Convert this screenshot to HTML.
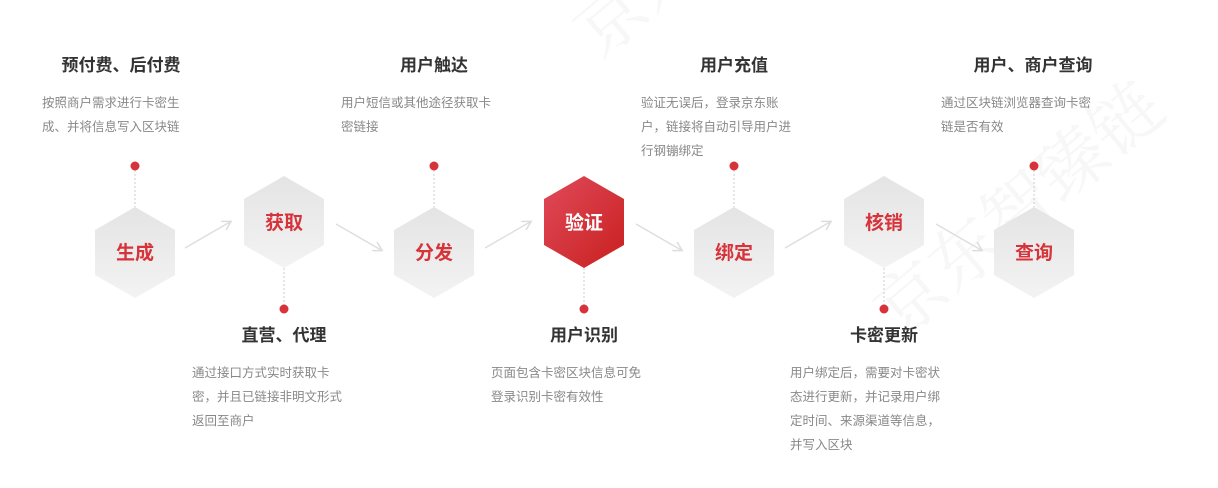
<!DOCTYPE html>
<html><head><meta charset="utf-8">
<style>
html,body{margin:0;padding:0;background:#fff;}
svg{display:block;}
.t{font-family:"Liberation Sans","Noto Sans CJK SC",sans-serif;font-size:17px;font-weight:bold;fill:#333;text-anchor:middle;}
.d{font-family:"Liberation Sans","Noto Sans CJK SC",sans-serif;font-size:12.5px;fill:#888;}
.h{font-family:"Liberation Sans","Noto Sans CJK SC",sans-serif;font-size:19px;font-weight:bold;fill:#d6333a;text-anchor:middle;}
.w{font-family:"Noto Serif CJK SC",serif;font-size:70px;fill:#f7f7f7;}
</style></head><body>
<svg width="1218" height="488" viewBox="0 0 1218 488">
<defs>
<linearGradient id="g" x1="0" y1="0" x2="0" y2="1"><stop offset="0" stop-color="#e4e4e4"/><stop offset="1" stop-color="#f3f3f3"/></linearGradient>
<linearGradient id="r" x1="0" y1="0" x2="1" y2="1"><stop offset="0" stop-color="#e04a5a"/><stop offset="1" stop-color="#c8201f"/></linearGradient>
<marker id="a" markerWidth="8" markerHeight="8" refX="6" refY="4" orient="auto"><path d="M0,0 L7,4 L0,8" fill="none" stroke="#ddd" stroke-width="1.2"/></marker>
</defs>
<text class="w" x="600" y="60" transform="rotate(-40 600 60)">京东</text>
<text class="w" x="900" y="340" transform="rotate(-40 900 340)">京东智臻链</text>
<g stroke="#ccc" stroke-width="1" stroke-dasharray="2,2">
<line x1="135" y1="166" x2="135" y2="207"/>
<line x1="434" y1="166" x2="434" y2="207"/>
<line x1="734" y1="166" x2="734" y2="207"/>
<line x1="1034" y1="166" x2="1034" y2="207"/>
<line x1="284" y1="268" x2="284" y2="309"/>
<line x1="584" y1="268" x2="584" y2="309"/>
<line x1="884" y1="268" x2="884" y2="309"/>
</g>
<g fill="#d6333a">
<circle cx="135" cy="166" r="4.5"/><circle cx="434" cy="166" r="4.5"/><circle cx="734" cy="166" r="4.5"/><circle cx="1034" cy="166" r="4.5"/>
<circle cx="284" cy="309" r="4.5"/><circle cx="584" cy="309" r="4.5"/><circle cx="884" cy="309" r="4.5"/>
</g>
<g stroke="#ddd" stroke-width="1.3" fill="none" marker-end="url(#a)">
<line x1="185" y1="248" x2="230" y2="222"/>
<line x1="336" y1="224" x2="381" y2="250"/>
<line x1="485" y1="248" x2="530" y2="222"/>
<line x1="636" y1="224" x2="681" y2="250"/>
<line x1="785" y1="248" x2="830" y2="222"/>
<line x1="936" y1="224" x2="981" y2="250"/>
</g>
<g fill="url(#g)">
<polygon points="135,207 175,230 175,275 135,298 95,275 95,230"/>
<polygon points="284,176 324,199 324,245 284,268 244,245 244,199"/>
<polygon points="434,207 474,230 474,275 434,298 394,275 394,230"/>
<polygon points="734,207 774,230 774,275 734,298 694,275 694,230"/>
<polygon points="884,176 924,199 924,245 884,268 844,245 844,199"/>
<polygon points="1034,207 1074,230 1074,275 1034,298 994,275 994,230"/>
</g>
<polygon points="584,176 624,199 624,245 584,268 544,245 544,199" fill="url(#r)"/>
<text class="h" x="135" y="259">生成</text>
<text class="h" x="284" y="229">获取</text>
<text class="h" x="434" y="259">分发</text>
<text class="h" x="584" y="229" style="fill:#fff">验证</text>
<text class="h" x="734" y="259">绑定</text>
<text class="h" x="884" y="229">核销</text>
<text class="h" x="1034" y="259">查询</text>
<text class="t" x="121" y="71">预付费、后付费</text>
<text class="d" x="42" y="107">按照商户需求进行卡密生</text>
<text class="d" x="42" y="131">成、并将信息写入区块链</text>
<text class="t" x="434" y="71">用户触达</text>
<text class="d" x="341" y="107">用户短信或其他途径获取卡</text>
<text class="d" x="341" y="131">密链接</text>
<text class="t" x="734" y="71">用户充值</text>
<text class="d" x="641" y="107">验证无误后，登录京东账</text>
<text class="d" x="641" y="131">户，链接将自动引导用户进</text>
<text class="d" x="641" y="155">行钢镚绑定</text>
<text class="t" x="1033" y="71">用户、商户查询</text>
<text class="d" x="941" y="107">通过区块链浏览器查询卡密</text>
<text class="d" x="941" y="131">链是否有效</text>
<text class="t" x="284" y="341">直营、代理</text>
<text class="d" x="192" y="377">通过接口方式实时获取卡</text>
<text class="d" x="192" y="401">密，并且已链接非明文形式</text>
<text class="d" x="192" y="425">返回至商户</text>
<text class="t" x="584" y="341">用户识别</text>
<text class="d" x="491" y="377">页面包含卡密区块信息可免</text>
<text class="d" x="491" y="401">登录识别卡密有效性</text>
<text class="t" x="884" y="341">卡密更新</text>
<text class="d" x="790" y="377">用户绑定后，需要对卡密状</text>
<text class="d" x="790" y="401">态进行更新，并记录用户绑</text>
<text class="d" x="790" y="425">定时间、来源渠道等信息，</text>
<text class="d" x="790" y="449">并写入区块</text>
</svg>
</body></html>
